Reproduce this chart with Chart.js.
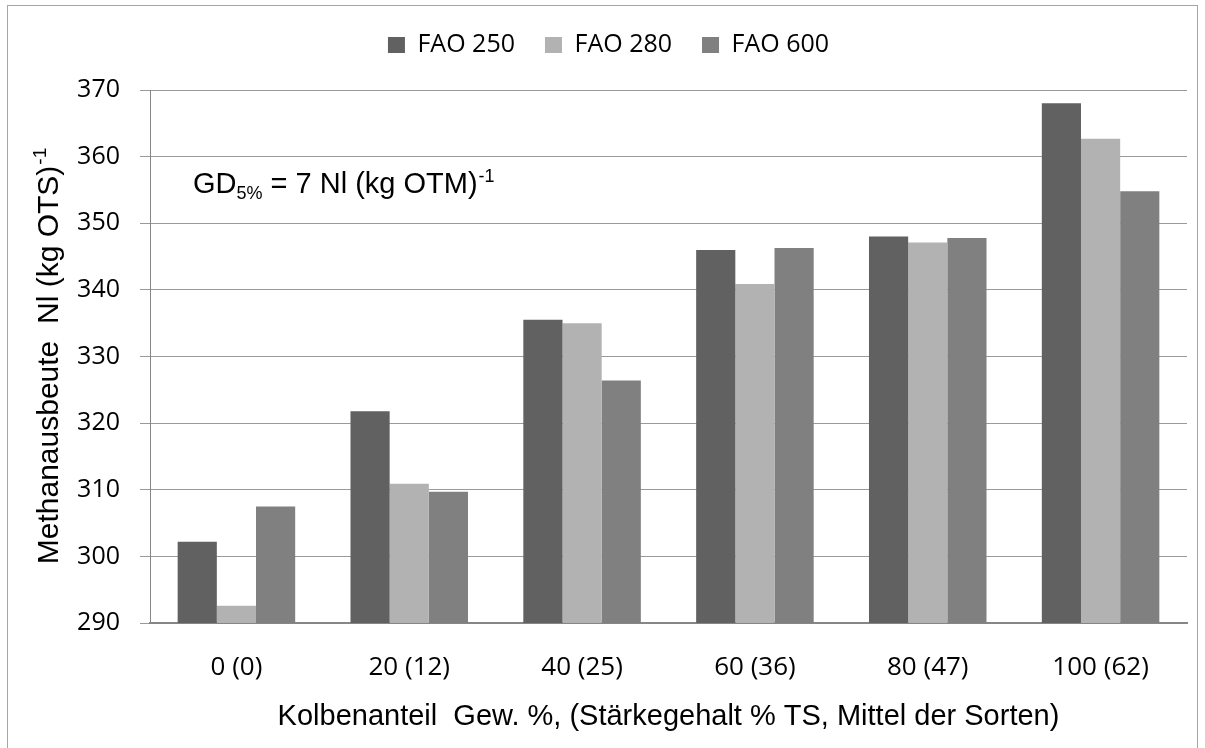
<!DOCTYPE html>
<html><head><meta charset="utf-8">
<script src="https://cdn.jsdelivr.net/npm/chart.js@4/dist/chart.umd.min.js"></script>
<style>html,body{margin:0;padding:0;background:#fff}</style>
</head><body>
<canvas id="c" width="1205" height="748"></canvas>
<script>
const categories = ['0 (0)', '20 (12)', '40 (25)', '60 (36)', '80 (47)', '100 (62)'];
const seriesNames = ['FAO 250', 'FAO 280', 'FAO 600'];
const fao250 = [302.2, 321.8, 335.5, 346.0, 348.0, 368.0];
const fao280 = [292.6, 310.9, 335.0, 340.9, 347.1, 362.7];
const fao600 = [307.5, 309.7, 326.4, 346.3, 347.8, 354.8];
const seriesColors = ['#616161', '#b2b2b2', '#808080'];
const yMin = 290, yMax = 370, yStep = 10;
const xTitle = 'Kolbenanteil  Gew. %, (Stärkegehalt % TS, Mittel der Sorten)';
const yTitle = 'Methanausbeute  Nl (kg OTS)';
const yTitleSup = '-1';
const gdMain = 'GD', gdSub = '5%', gdRest = ' = 7 Nl (kg OTM)', gdSup = '-1';

const TICK_FONT = '"Open Sans", "Noto Sans", sans-serif';
const TITLE_FONT = '"Liberation Sans", Arial, sans-serif';
const PAD_LEFT = 30, PAD_RIGHT = 18, PAD_TOP = 2.5;
const PLOT_LEFT = 150, PLOT_TOP = 90, PLOT_BOTTOM = 623;

const deco = {
  id: 'deco',
  beforeDraw(chart) {
    const ctx = chart.ctx;
    ctx.save();
    ctx.fillStyle = '#fff';
    ctx.fillRect(0, 0, chart.width, chart.height);
    ctx.strokeStyle = '#a6a6a6';
    ctx.lineWidth = 1;
    ctx.strokeRect(7.5, 5.5, 1190, 780);
    ctx.restore();
  },
  afterDraw(chart) {
    const ctx = chart.ctx;
    const ca = chart.chartArea;
    ctx.save();
    ctx.fillStyle = '#000';
    ctx.textBaseline = 'alphabetic';
    ctx.translate(47, (ca.top + ca.bottom) / 2);
    ctx.rotate(-Math.PI / 2);
    ctx.font = '30px ' + TITLE_FONT;
    const w1 = ctx.measureText(yTitle).width;
    ctx.font = '19px ' + TITLE_FONT;
    const w2 = ctx.measureText(yTitleSup).width;
    const x = -(w1 + w2) / 2;
    ctx.font = '30px ' + TITLE_FONT;
    ctx.fillText(yTitle, x, 11);
    ctx.font = '19px ' + TITLE_FONT;
    ctx.fillText(yTitleSup, x + w1 + 1, -1);
    ctx.restore();

    ctx.save();
    ctx.fillStyle = '#000';
    ctx.textBaseline = 'alphabetic';
    const ys = chart.scales.y;
    let gx = ca.left + 43;
    const gy = ys.getPixelForValue(354.5);
    ctx.font = '29px ' + TITLE_FONT;
    ctx.fillText(gdMain, gx, gy); gx += ctx.measureText(gdMain).width;
    ctx.font = '18px ' + TITLE_FONT;
    ctx.fillText(gdSub, gx, gy + 6); gx += ctx.measureText(gdSub).width;
    ctx.font = '29px ' + TITLE_FONT;
    ctx.fillText(gdRest, gx, gy); gx += ctx.measureText(gdRest).width + 1;
    ctx.font = '18px ' + TITLE_FONT;
    ctx.fillText(gdSup, gx, gy - 11);
    ctx.restore();
  }
};

const cfg = {
  type: 'bar',
  data: {
    labels: categories,
    datasets: [
      { label: seriesNames[0], data: fao250, backgroundColor: seriesColors[0], borderWidth: 0 },
      { label: seriesNames[1], data: fao280, backgroundColor: seriesColors[1], borderWidth: 0 },
      { label: seriesNames[2], data: fao600, backgroundColor: seriesColors[2], borderWidth: 0 }
    ]
  },
  options: {
    responsive: false,
    animation: false,
    devicePixelRatio: 1,
    layout: { padding: { top: PAD_TOP, bottom: 0, left: PAD_LEFT, right: PAD_RIGHT } },
    datasets: { bar: { categoryPercentage: 0.68, barPercentage: 1.0 } },
    plugins: {
      legend: {
        position: 'top',
        align: 'center',
        labels: {
          boxWidth: 17, boxHeight: 16, padding: 30,
          color: '#000',
          font: { family: TICK_FONT, size: 25 }
        }
      },
      tooltip: { enabled: false }
    },
    scales: {
      x: {
        grid: { display: false, drawTicks: false },
        border: { display: true, color: '#868686', width: 2 },
        ticks: { color: '#000', padding: 29, font: { family: TICK_FONT, size: 26 }, maxRotation: 0 },
        title: {
          display: true, text: xTitle, color: '#000',
          font: { family: TITLE_FONT, size: 29 },
          padding: { top: 0, bottom: 13.6 }
        },
        afterFit(scale) { scale.height = 748 - PLOT_BOTTOM; }
      },
      y: {
        min: yMin, max: yMax,
        ticks: { stepSize: yStep, color: '#000', padding: 20, font: { family: TICK_FONT, size: 25 } },
        grid: { color: '#9a9a9a', lineWidth: 1, tickLength: 10, drawTicks: true },
        border: { display: true, color: '#868686', width: 1 },
        afterFit(scale) { scale.width = PLOT_LEFT - PAD_LEFT; }
      }
    }
  },
  plugins: [deco]
};

const chart = new Chart(document.getElementById('c'), cfg);
const legendFit = chart.legend.fit;
chart.legend.fit = function () {
  legendFit.call(this);
  this.height = PLOT_TOP - PAD_TOP;
};
chart.update();
</script>
</body></html>
